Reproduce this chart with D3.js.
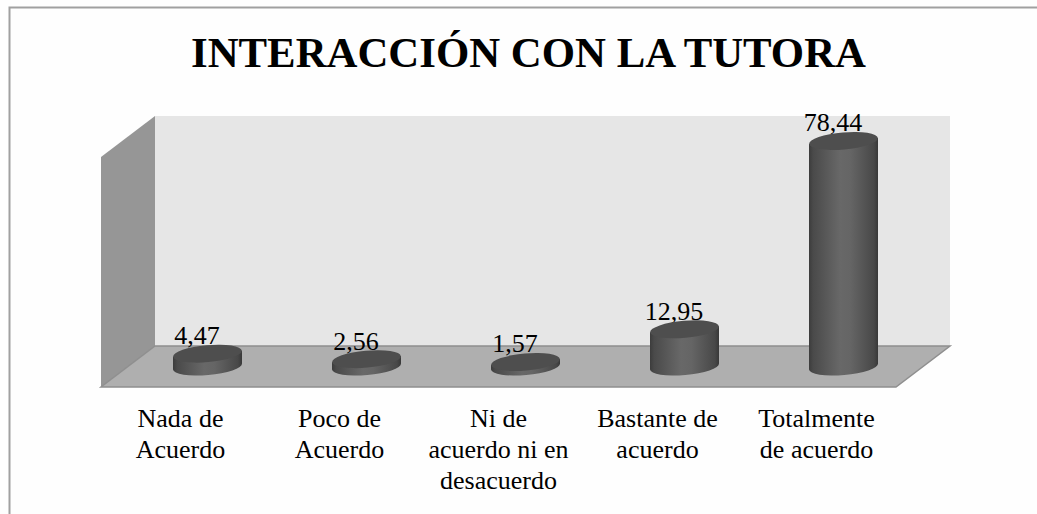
<!DOCTYPE html>
<html>
<head>
<meta charset="utf-8">
<script src="https://cdn.jsdelivr.net/npm/d3@7"></script>
<style>
    html, body { margin: 0; padding: 0; background: #fefefe; }
    svg { display: block; }
    text { font-family: "Liberation Serif", serif; fill: #000; }
</style>
</head>
<body>
<svg id="chart"></svg>
<script>
const title = "INTERACCIÓN CON LA TUTORA"
const categories = ["Nada de Acuerdo", "Poco de Acuerdo", "Ni de acuerdo ni en desacuerdo", "Bastante de acuerdo", "Totalmente de acuerdo"]
const categoryLines = [["Nada de", "Acuerdo"], ["Poco de", "Acuerdo"], ["Ni de", "acuerdo ni en", "desacuerdo"], ["Bastante de", "acuerdo"], ["Totalmente", "de acuerdo"]]
const values = [4.47, 2.56, 1.57, 12.95, 78.44]
const valueLabels = ["4,47", "2,56", "1,57", "12,95", "78,44"]

const width = 1037, height = 514
const svg = d3.select("#chart").attr("width", width).attr("height", height)

// 3d box: front edge of the floor and how far the back wall is shifted
const box = {left: 101, right: 896, top: 157, bottom: 387, dx: 54, dy: -41}

// bars stand half way into the box, the axis labels sit on the front edge
const scaleX = d3.scaleBand().domain(categories).range([box.left + box.dx / 2, box.right + box.dx / 2])
const labelX = d3.scaleBand().domain(categories).range([box.left, box.right])
const scaleY = d3.scaleLinear().domain([0, 80]).range([box.bottom + box.dy / 2, box.top + box.dy / 2])

const defs = svg.append("defs")
const grad = defs.append("linearGradient").attr("id", "cyl").attr("x1", 0).attr("x2", 1).attr("y1", 0).attr("y2", 0)
grad.selectAll("stop")
    .data([[0, "#3c3c3c"], [0.06, "#4a4a4a"], [0.45, "#686868"], [0.6, "#656565"], [0.94, "#484848"], [1, "#383838"]])
    .join("stop")
    .attr("offset", d => d[0])
    .attr("stop-color", d => d[1])

// chart frame, cut off by the page on the right and bottom
svg.append("path")
    .attr("d", `M9.5,${height}V7.5H${width}`)
    .attr("fill", "none")
    .attr("stroke", "#a0a0a0")
    .attr("stroke-width", 2)

svg.append("text")
    .attr("x", 528.5)
    .attr("y", 67)
    .attr("text-anchor", "middle")
    .attr("font-size", 42.8)
    .attr("font-weight", "bold")
    .text(title)

const walls = svg.append("g")
const backLeft = box.left + box.dx, backRight = box.right + box.dx
const backTop = box.top + box.dy, backBottom = box.bottom + box.dy

walls.append("rect")
    .attr("x", backLeft).attr("y", backTop)
    .attr("width", backRight - backLeft).attr("height", backBottom - backTop)
    .attr("fill", "#e6e6e6")
walls.append("path")
    .attr("d", `M${box.left},${box.top}L${backLeft},${backTop}V${backBottom}L${box.left},${box.bottom}Z`)
    .attr("fill", "#969696")
walls.append("path")
    .attr("d", `M${backLeft},${backBottom}H${backRight}L${box.right},${box.bottom}H${box.left}Z`)
    .attr("fill", "#afafaf")
    .attr("stroke", "#8f8f8f")
    .attr("stroke-width", 1.5)

// value labels go under the bars, the caps cover the bottom of the text
svg.append("g").selectAll("text")
    .data(categories)
    .join("text")
    .attr("x", d => scaleX(d) + scaleX.bandwidth() / 2 - 10.5)
    .attr("y", (d, i) => scaleY(values[i]) - 9.5)
    .attr("text-anchor", "middle")
    .attr("font-size", 26)
    .text((d, i) => valueLabels[i])

const rx = 34.5, ry = 8.5, tilt = -5
const lift = rx * Math.tan(-tilt * Math.PI / 180)

const bars = svg.append("g").selectAll("g")
    .data(categories)
    .join("g")
    .attr("transform", d => `translate(${scaleX(d) + scaleX.bandwidth() / 2},0)`)

bars.append("path")
    .attr("fill", "url(#cyl)")
    .attr("d", (d, i) => {
        let y0 = scaleY(0), y1 = scaleY(values[i])
        return `M${-rx},${y1 + lift}L${-rx},${y0 + lift}A${rx},${ry} ${tilt} 0 0 ${rx},${y0 - lift}L${rx},${y1 - lift}Z`
    })

bars.append("ellipse")
    .attr("rx", rx)
    .attr("ry", ry)
    .attr("fill", "#4e4e4e")
    .attr("transform", (d, i) => `translate(0,${scaleY(values[i])}) rotate(${tilt})`)

const xAxis = d3.axisBottom(labelX).tickSize(0).tickFormat("")
const axisG = svg.append("g").attr("transform", `translate(0,${box.bottom})`).call(xAxis)
axisG.select(".domain").remove()
axisG.selectAll(".tick text")
    .attr("font-size", 26)
    .attr("dy", 0)
    .each(function(d, i) {
        d3.select(this).selectAll("tspan")
            .data(categoryLines[i])
            .join("tspan")
            .attr("x", 0)
            .attr("y", (l, j) => 40 + j * 31)
            .text(l => l)
    })
</script>
</body>
</html>
